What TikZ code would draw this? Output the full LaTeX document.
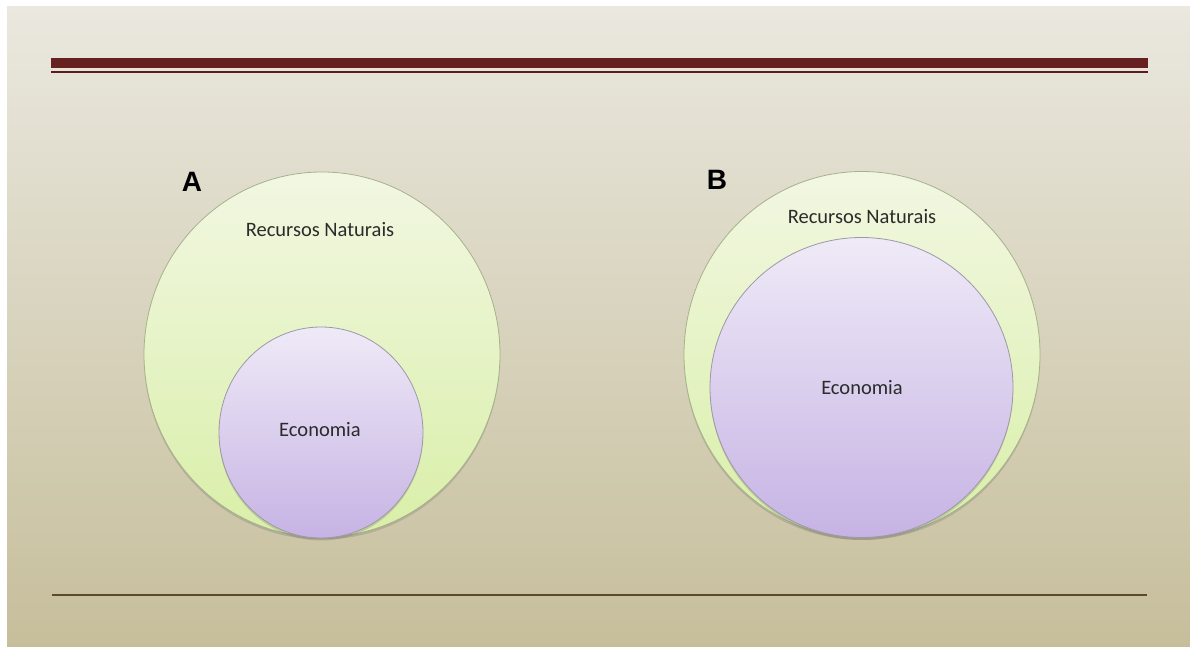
\documentclass[tikz,border=0pt]{standalone}
\usepackage{fontspec}
\setmainfont{Carlito}
\newfontfamily\headfont{Liberation Sans}
\usetikzlibrary{shapes.geometric,shadows}
\definecolor{bgtop}{HTML}{EAE8DF}
\definecolor{bgbot}{HTML}{C6BE9B}
\definecolor{barred}{HTML}{65201F}
\definecolor{rulebrown}{HTML}{5A4A2E}
\definecolor{greentop}{HTML}{F2F7E2}
\definecolor{greenbot}{HTML}{D9EFA8}
\definecolor{greenedge}{HTML}{A7B18C}
\definecolor{violettop}{HTML}{EFEAF7}
\definecolor{violetbot}{HTML}{C6B3E4}
\definecolor{violetedge}{HTML}{9D98A6}
\definecolor{textgray}{HTML}{2B2B2B}
\tikzset{
  resources/.style={ellipse, inner sep=0pt, draw=greenedge, line width=0.8pt,
    top color=greentop, bottom color=greenbot,
    drop shadow={shadow xshift=0pt, shadow yshift=-2.5pt, opacity=0.25, fill=black!60}},
  economy/.style={ellipse, inner sep=0pt, draw=violetedge, line width=0.8pt,
    top color=violettop, bottom color=violetbot,
    drop shadow={shadow xshift=0pt, shadow yshift=-2.5pt, opacity=0.25, fill=black!60}},
  caption/.style={text=textgray, font=\fontsize{20.5}{24}\selectfont, inner sep=0pt},
  letter/.style={text=black, font=\headfont\bfseries\fontsize{28}{32}\selectfont, inner sep=0pt}
}
\begin{document}
\begin{tikzpicture}[x=1pt,y=1pt]
  \useasboundingbox (0,0) rectangle (1190,647);
  % slide background
  \fill[white] (0,0) rectangle (1190,647);
  \shade[top color=bgtop, bottom color=bgbot] (7,0) rectangle (1190,640);
  % title bar and rules
  \fill[barred] (51,579) rectangle (1148,589);
  \draw[barred!90!black, line width=1.2pt] (51,575) -- (1148,575);
  \draw[rulebrown, line width=2pt] (52,52) -- (1147,52);

  % panel A
  \node[resources, minimum width=356pt, minimum height=365pt] (natA) at (322,292.5) {};
  \node[economy, minimum width=204pt, minimum height=211pt] (ecoA) at (321,214.5) {};
  \node[caption] (labNatA) at (320,417) {Recursos Naturais};
  \node[caption] (labEcoA) at (320,217) {Economia};
  \node[letter] (tagA) at (192,465) {A};

  % panel B
  \node[resources, minimum width=356pt, minimum height=366pt] (natB) at (862,292.5) {};
  \node[economy, minimum width=303pt, minimum height=300pt] (ecoB) at (861.5,259.5) {};
  \node[caption] (labNatB) at (862,430) {Recursos Naturais};
  \node[caption] (labEcoB) at (862,259) {Economia};
  \node[letter] (tagB) at (717,467) {B};
\end{tikzpicture}
\end{document}
